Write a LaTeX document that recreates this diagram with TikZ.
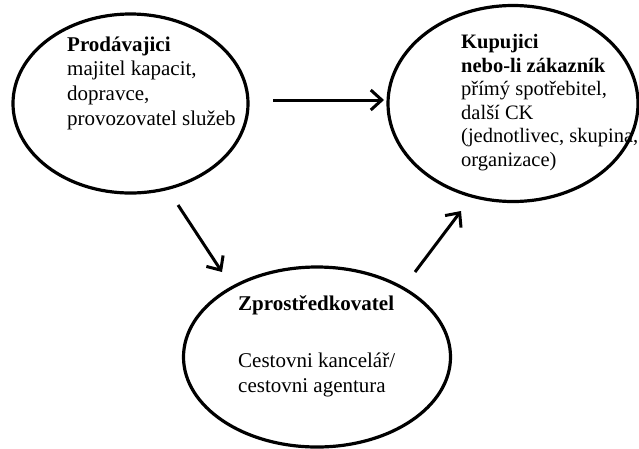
\documentclass[tikz,border=0pt]{standalone}
\usepackage{fontspec}
\setmainfont{Liberation Serif}
\usetikzlibrary{shapes.geometric}
\usetikzlibrary{arrows.meta}

\tikzset{
	oval/.style={draw, ellipse, line width=3.2pt, inner sep=0pt},
	txt/.style={align=left, inner sep=0pt, anchor=north west, font=\fontsize{21}{24.6}\selectfont},
	arr/.style={line width=3pt, -{Straight Barb[length=11pt, width=20pt, line width=3pt]}}
}

\begin{document}
\begin{tikzpicture}[x=1pt, y=-1pt]
				\useasboundingbox (0,0) rectangle (639,448);
				
				\coordinate (1) at (130.5,103.5);
				\coordinate (2) at (513,103.5);
				\coordinate (3) at (317,357);
				
				\coordinate (a) at (273,100);
				\coordinate (b) at (384,100);
				\coordinate (c) at (178,205);
				\coordinate (d) at (222,272);
				\coordinate (e) at (415,272);
				\coordinate (f) at (461,211);
				
				
				\node[oval, minimum width=235, minimum height=179] (prod) at (1) {};
				\node[oval, minimum width=250, minimum height=196] (kup) at (2) {};
				\node[oval, minimum width=267, minimum height=180] (zpro) at (3) {};
				
				
				\node[txt] (prodtxt) at (67,36.6) {\textbf{Prodávajici}\\majitel kapacit,\\dopravce,\\provozovatel služeb};
				
				\node[txt, font=\fontsize{20.5}{23.6}\selectfont] (kuptxt) at (461,34) {\textbf{Kupujici}\\\textbf{nebo-li zákazník}\\přímý spotřebitel,\\další CK\\(jednotlivec, skupina,\\organizace)};
				
				\node[txt] (zprotxt) at (238,295.6) {\textbf{Zprostředkovatel}};
				\node[txt] (cktxt) at (238,352.6) {Cestovni kancelář/\\cestovni agentura};
				
				
				\draw[arr] (a)--(b);
				
				\draw[arr] (c)--(d);
				
				\draw[arr] (e)--(f);
				
\end{tikzpicture}
\end{document}
